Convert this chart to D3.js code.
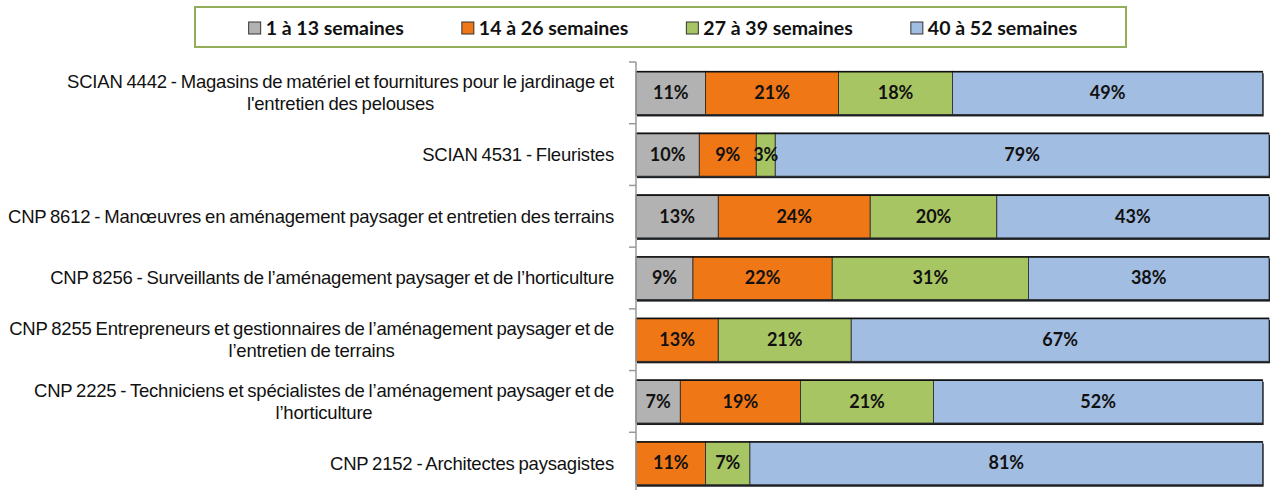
<!DOCTYPE html>
<html>
<head>
<meta charset="utf-8">
<script src="https://cdn.jsdelivr.net/npm/d3@7"></script>
<style>
  body { margin: 0; background: #fff; }
  svg { display: block; }
</style>
</head>
<body>
<div id="chart"></div>
<script>
// categories, one entry per bar, split into the lines shown on the chart
const categories = [
  ["SCIAN 4442 - Magasins de matériel et fournitures pour le jardinage et", "l'entretien des pelouses"],
  ["SCIAN 4531 - Fleuristes"],
  ["CNP 8612 - Manœuvres en aménagement paysager et entretien des terrains"],
  ["CNP 8256 - Surveillants de l’aménagement paysager et de l’horticulture"],
  ["CNP 8255 Entrepreneurs et gestionnaires de l’aménagement paysager et de", "l’entretien de terrains"],
  ["CNP 2225 - Techniciens et spécialistes de l’aménagement paysager et de", "l’horticulture"],
  ["CNP 2152 - Architectes paysagistes"]
];

const seriesNames = ["1 à 13 semaines", "14 à 26 semaines", "27 à 39 semaines", "40 à 52 semaines"];
const seriesColors = ["#b2b2b2", "#ef7716", "#a8c563", "#a2bde2"];

// values in %
const weeks1to13 = [11, 10, 13, 9, 0, 7, 0];
const weeks14to26 = [21, 9, 24, 22, 13, 19, 11];
const weeks27to39 = [18, 3, 20, 31, 21, 21, 7];
const weeks40to52 = [49, 79, 43, 38, 67, 52, 81];

const width = 1270, height = 490;
const labelFont = "'Liberation Sans', Arial, sans-serif";
const boldFont = "Lato, 'Open Sans', sans-serif";

const table = categories.map((c, i) => ({
  idx: i,
  s0: weeks1to13[i],
  s1: weeks14to26[i],
  s2: weeks27to39[i],
  s3: weeks40to52[i]
}));
const keys = ["s0", "s1", "s2", "s3"];

const svg = d3.select("#chart").append("svg")
  .attr("width", width)
  .attr("height", height);

const x = d3.scaleLinear().domain([0, 100]).range([636, 1269]).clamp(true);
const y = d3.scaleBand()
  .domain(d3.range(categories.length))
  .range([62, 494])
  .paddingInner(0.3)
  .paddingOuter(0.15);

const stacked = d3.stack().keys(keys)(table);

// Legend
const legend = svg.append("g");
legend.append("rect")
  .attr("x", 195).attr("y", 7)
  .attr("width", 931).attr("height", 40)
  .attr("fill", "#fff")
  .attr("stroke", "#94ad5b")
  .attr("stroke-width", 2);

const items = legend.selectAll("g.item")
  .data(seriesNames)
  .join("g")
  .attr("class", "item");
items.append("rect")
  .attr("width", 12).attr("height", 12)
  .attr("y", 22)
  .attr("fill", (d, i) => seriesColors[i])
  .attr("stroke", "#333")
  .attr("stroke-width", 1);
items.append("text")
  .attr("x", 17)
  .attr("y", 28)
  .attr("dy", "0.35em")
  .attr("font-family", boldFont)
  .attr("font-weight", 700)
  .attr("font-size", 19.5)
  .attr("fill", "#111")
  .text(d => d);

const gap = 58;
const widths = [];
items.each(function () {
  widths.push(17 + this.querySelector("text").getComputedTextLength());
});
const total = d3.sum(widths) + gap * (widths.length - 1);
let cursor = 663 - total / 2;
items.attr("transform", (d, i) => {
  const t = `translate(${cursor},0)`;
  cursor += widths[i] + gap;
  return t;
});

// Bars
const bars = svg.append("g");

// shadow under each bar
bars.selectAll("rect.shadow")
  .data(table)
  .join("rect")
  .attr("class", "shadow")
  .attr("x", d => x(0) + 1)
  .attr("y", d => y(d.idx) + 2)
  .attr("width", d => x(d.s0 + d.s1 + d.s2 + d.s3) - x(0))
  .attr("height", y.bandwidth())
  .attr("fill", "#1b1f24");

stacked.forEach((layer, k) => {
  bars.append("g")
    .selectAll("rect")
    .data(layer.filter(d => d[1] > d[0]))
    .join("rect")
    .attr("x", d => x(d[0]))
    .attr("y", d => y(d.data.idx))
    .attr("width", d => x(d[1]) - x(d[0]))
    .attr("height", y.bandwidth())
    .attr("fill", seriesColors[k])
    .attr("stroke", "#2a2a2a")
    .attr("stroke-width", 0.8);
});

// top outline
bars.selectAll("line.top")
  .data(table)
  .join("line")
  .attr("x1", x(0))
  .attr("x2", d => x(d.s0 + d.s1 + d.s2 + d.s3))
  .attr("y1", d => y(d.idx) + 0.5)
  .attr("y2", d => y(d.idx) + 0.5)
  .attr("stroke", "#111")
  .attr("stroke-width", 1.5);

// value labels
stacked.forEach(layer => {
  bars.append("g")
    .selectAll("text")
    .data(layer.filter(d => d[1] > d[0]))
    .join("text")
    .attr("x", d => (x(d[0]) + x(d[1])) / 2)
    .attr("y", d => y(d.data.idx) + y.bandwidth() / 2)
    .attr("dy", "0.35em")
    .attr("text-anchor", "middle")
    .attr("font-family", boldFont)
    .attr("font-weight", 700)
    .attr("font-size", 18)
    .attr("fill", "#111")
    .text(d => `${d[1] - d[0]}%`);
});

// Axis with ticks at band boundaries
const axis = svg.append("g");
axis.append("line")
  .attr("x1", x(0)).attr("x2", x(0))
  .attr("y1", y.range()[0]).attr("y2", y.range()[1])
  .attr("stroke", "#999")
  .attr("stroke-width", 1.5);
axis.selectAll("line.tick")
  .data(d3.range(categories.length + 1))
  .join("line")
  .attr("class", "tick")
  .attr("x1", x(0) - 7).attr("x2", x(0))
  .attr("y1", i => y.range()[0] + i * y.step())
  .attr("y2", i => y.range()[0] + i * y.step())
  .attr("stroke", "#999")
  .attr("stroke-width", 1.5);

// Category labels: block right-aligned, lines centered within the block
const lineH = 22;
const catLabels = svg.append("g")
  .selectAll("text")
  .data(categories)
  .join("text")
  .attr("font-family", labelFont)
  .attr("font-size", 18.5)
  .attr("letter-spacing", -0.2)
  .attr("word-spacing", -1)
  .attr("fill", "#111")
  .attr("text-anchor", "middle");

catLabels.each(function (lines, i) {
  const t = d3.select(this);
  const cy = y(i) + y.bandwidth() / 2;
  const spans = t.selectAll("tspan")
    .data(lines)
    .join("tspan")
    .attr("y", (d, j) => cy + (j - (lines.length - 1) / 2) * lineH)
    .attr("dy", "0.35em")
    .text(d => d);
  let maxW = 0;
  spans.each(function () { maxW = Math.max(maxW, this.getComputedTextLength()); });
  spans.attr("x", 614 - maxW / 2);
});
</script>
</body>
</html>
